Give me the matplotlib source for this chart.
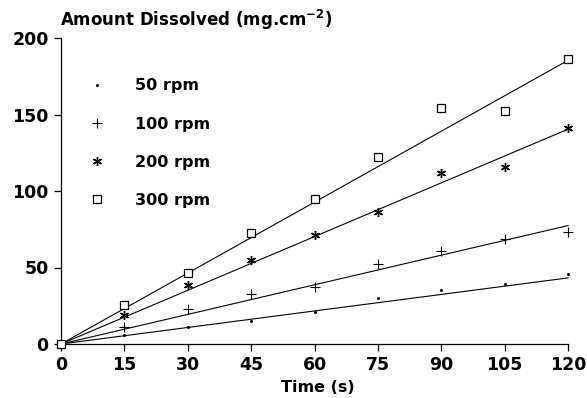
import matplotlib

matplotlib.use("Agg")
import matplotlib.pyplot as plt
import numpy as np

# time points (s)
time = [0, 15, 30, 45, 60, 75, 90, 105, 120]

# amount dissolved (mg.cm-2)
rpm50 = [0, 6, 11, 15, 21, 30, 35, 39, 46]
rpm100 = [0, 11, 23, 33, 37, 52, 61, 68.5, 73]
rpm200 = [0, 19, 38.5, 55, 71, 86, 112, 116, 141]
rpm300 = [0, 25.5, 46.5, 72.5, 94.5, 122, 154, 152.5, 186]

# slopes of the fitted straight lines through the origin
fit_slopes = [0.36, 0.645, 1.17, 1.545]

labels = ["50 rpm", "100 rpm", "200 rpm", "300 rpm"]
x_ticks = [0, 15, 30, 45, 60, 75, 90, 105, 120]
y_ticks = [0, 50, 100, 150, 200]

FONT = "DejaVu Sans"


def main() -> None:
    fig = plt.figure(figsize=(5.87, 3.98), dpi=100)
    ax = fig.add_axes([61 / 587, 1 - 344 / 398, (568 - 61) / 587, (344 - 38) / 398])

    series = [rpm50, rpm100, rpm200, rpm300]
    styles = [
        dict(marker="o", markersize=2.2, markerfacecolor="black", markeredgewidth=0),
        dict(marker="+", markersize=7, markeredgewidth=0.8),
        dict(marker=(6, 2, 0), markersize=6.5, markeredgewidth=1.0),
        dict(marker="s", markersize=5.5, markerfacecolor="white", markeredgewidth=0.9),
    ]

    t = np.array(time, dtype=float)
    handles = []
    for values, style, slope, label in zip(series, styles, fit_slopes, labels):
        ax.plot(t, slope * t, color="black", linewidth=0.8, zorder=2)
        (h,) = ax.plot(time, values, linestyle="none", color="black",
                       markeredgecolor="black", label=label, zorder=3, **style)
        handles.append(h)

    ax.set_xlim(0, 120)
    ax.set_ylim(0, 200)
    ax.set_xticks(x_ticks)
    ax.set_yticks(y_ticks)
    ax.spines["top"].set_visible(False)
    ax.spines["right"].set_visible(False)
    ax.spines["left"].set_linewidth(0.9)
    ax.spines["bottom"].set_linewidth(0.9)
    ax.tick_params(direction="out", length=5, width=0.9, pad=4)
    for lab in ax.get_xticklabels() + ax.get_yticklabels():
        lab.set_fontfamily(FONT)
        lab.set_fontweight("bold")
        lab.set_fontsize(12.5)
    for line in ax.lines:
        line.set_clip_on(False)

    fig.text(60 / 587, 1 - 20 / 398, "Amount Dissolved (mg.cm$^{\\mathbf{-2}}$)",
             fontfamily=FONT, fontweight="bold", fontsize=12, va="center", ha="left")
    fig.text(318 / 587, 1 - 388 / 398, "Time (s)", fontfamily=FONT,
             fontweight="bold", fontsize=11.5, va="center", ha="center")

    leg = ax.legend(handles=handles, loc="upper left", bbox_to_anchor=(0.02, 0.915),
                    frameon=False, handletextpad=1.6, labelspacing=1.45,
                    handlelength=1.5, prop=dict(family=FONT, weight="bold", size=11.5))
    leg.set_zorder(5)

    fig.savefig("out.png", dpi=100)
    plt.close(fig)


if __name__ == "__main__":
    main()
